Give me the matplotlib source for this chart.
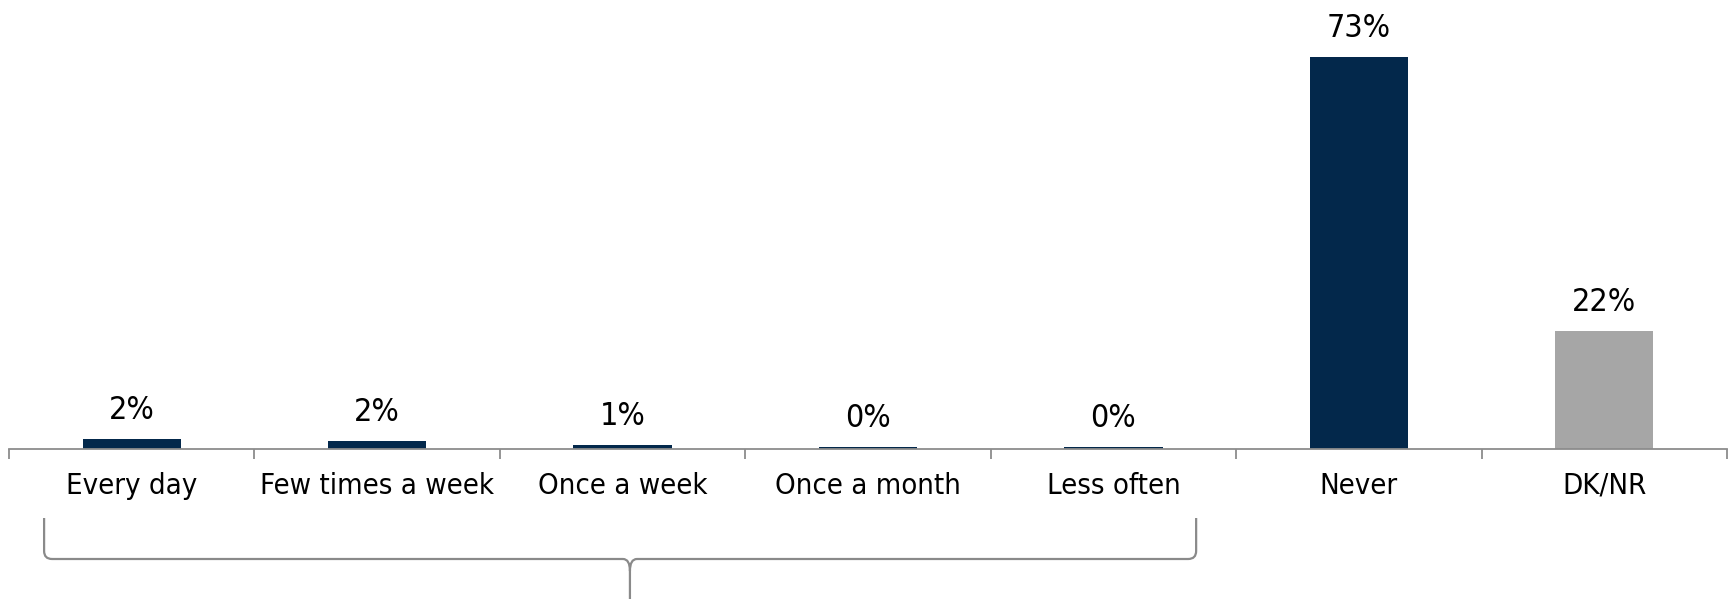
import matplotlib
matplotlib.use("Agg")
import matplotlib.pyplot as plt
import numpy as np
from matplotlib.path import Path
from matplotlib.patches import PathPatch

categories = ["Every day", "Few times a week", "Once a week", "Once a month",
              "Less often", "Never", "DK/NR"]
shares = [1.9, 1.5, 0.8, 0.35, 0.3, 73, 22]
bar_colors = ["#03284b"] * 6 + ["#a6a6a6"]

axis_gray = "#8c8c8c"

fig = plt.figure(figsize=(17.30, 5.99), dpi=100)
ax = fig.add_axes([9 / 1730, 150 / 599, 1718 / 1730, 449 / 599])

x = np.arange(len(categories))
ax.bar(x, shares, width=0.40, color=bar_colors, zorder=2)

for xi, v in zip(x, shares):
    ax.annotate(f"{v:.0f}%", (xi, v), xytext=(0, 14.4), textcoords="offset points",
                ha="center", va="baseline", fontsize=23, family="DejaVu Sans",
                fontstretch="condensed", color="black")

ax.set_xlim(-0.5, len(categories) - 0.5)
ax.set_ylim(0, 83.6)

for side in ["top", "right", "left"]:
    ax.spines[side].set_visible(False)
ax.spines["bottom"].set_color(axis_gray)
ax.spines["bottom"].set_linewidth(1.3)
ax.set_yticks([])

ax.set_xticks(x)
ax.set_xticklabels(categories, fontsize=21, family="DejaVu Sans",
                   fontstretch="condensed")
ax.tick_params(axis="x", which="major", length=0, pad=16.5)
ax.set_xticks(np.arange(-0.5, len(categories), 1), minor=True)
ax.tick_params(axis="x", which="minor", length=7.5, width=1.3, color=axis_gray)

# brace grouping the first five answers
trans = ax.get_xaxis_transform()
xl, xr, xm = -0.357, 4.337, 2.03
y_top, y_h, y_bot = -69 / 449, -110 / 449, -160 / 449
rx, ry = 8 / 1718 * 7, 8 / 449
mx, my = 7 / 1718 * 7, 12 / 449
verts = [
    (xl, y_top), (xl, y_h + ry), (xl, y_h), (xl + rx, y_h),
    (xm - mx, y_h), (xm, y_h), (xm, y_h - my), (xm, y_bot),
    (xr, y_top), (xr, y_h + ry), (xr, y_h), (xr - rx, y_h),
    (xm + mx, y_h), (xm, y_h), (xm, y_h - my),
]
codes = [
    Path.MOVETO, Path.LINETO, Path.CURVE3, Path.CURVE3,
    Path.LINETO, Path.CURVE3, Path.CURVE3, Path.LINETO,
    Path.MOVETO, Path.LINETO, Path.CURVE3, Path.CURVE3,
    Path.LINETO, Path.CURVE3, Path.CURVE3,
]
ax.add_patch(PathPatch(Path(verts, codes), transform=trans, fill=False,
                       edgecolor="#8a8a8a", linewidth=1.6, clip_on=False))

fig.savefig("out.png", dpi=100)
